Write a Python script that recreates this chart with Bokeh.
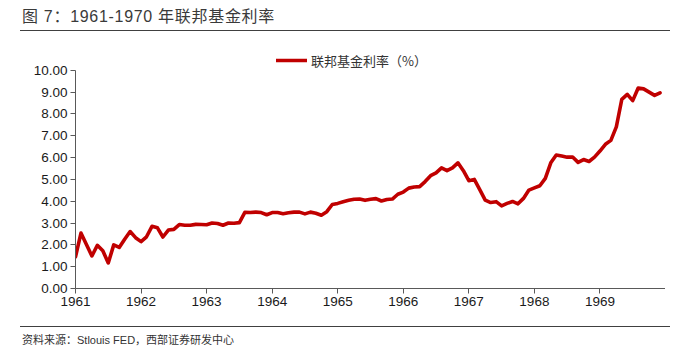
from bokeh.plotting import figure
from bokeh.models import (ColumnDataSource, Legend, LegendItem, Div,
                          FixedTicker, NumeralTickFormatter, Range1d)
from bokeh.layouts import column
from bokeh.embed import file_html
from bokeh.resources import INLINE

# ---- data (monthly effective federal funds rate, %) ----
years = [1961, 1962, 1963, 1964, 1965, 1966, 1967, 1968, 1969]
rate_1961 = [1.45, 2.54, 2.02, 1.49, 1.98, 1.73, 1.17, 2.00, 1.88, 2.26, 2.61, 2.33]
rate_1962 = [2.15, 2.37, 2.85, 2.78, 2.36, 2.68, 2.71, 2.93, 2.90, 2.90, 2.94, 2.93]
rate_1963 = [2.92, 3.00, 2.98, 2.90, 3.00, 2.99, 3.02, 3.49, 3.48, 3.50, 3.48, 3.38]
rate_1964 = [3.48, 3.48, 3.43, 3.47, 3.50, 3.50, 3.42, 3.50, 3.45, 3.36, 3.52, 3.85]
rate_1965 = [3.90, 3.98, 4.04, 4.09, 4.10, 4.04, 4.09, 4.12, 4.01, 4.08, 4.10, 4.32]
rate_1966 = [4.42, 4.60, 4.65, 4.67, 4.90, 5.17, 5.30, 5.53, 5.40, 5.53, 5.76, 5.40]
rate_1967 = [4.94, 5.00, 4.53, 4.05, 3.94, 3.98, 3.79, 3.90, 3.99, 3.88, 4.13, 4.51]
rate_1968 = [4.61, 4.71, 5.05, 5.76, 6.12, 6.07, 6.02, 6.03, 5.78, 5.91, 5.82, 6.02]
rate_1969 = [6.30, 6.61, 6.79, 7.41, 8.67, 8.90, 8.61, 9.19, 9.15, 9.00, 8.85, 8.97]
yearly_rates = [rate_1961, rate_1962, rate_1963, rate_1964, rate_1965,
                rate_1966, rate_1967, rate_1968, rate_1969]

x_ticks = [1961, 1962, 1963, 1964, 1965, 1966, 1967, 1968, 1969, 1970]
y_ticks = [0, 1, 2, 3, 4, 5, 6, 7, 8, 9, 10]

title_text = "图 7：1961-1970 年联邦基金利率"
legend_text = "联邦基金利率（%）"
source_text = "资料来源：Stlouis FED，西部证券研发中心"

xs, ys = [], []
for yr, vals in zip(years, yearly_rates):
    for m, v in enumerate(vals):
        xs.append(yr + m / 12.0)
        ys.append(v)
src = ColumnDataSource(dict(x=xs, y=ys))

LAT = "Liberation Sans, Noto Sans CJK SC"
CJK = "Noto Sans CJK SC"

W = 665
p = figure(width=W, height=295, output_backend="svg", toolbar_location=None,
           x_range=Range1d(1961, 1970), y_range=Range1d(0, 11.0),
           min_border_left=75, min_border_right=0, min_border_top=17,
           min_border_bottom=38)
p.title = None
p.outline_line_color = None
p.xgrid.visible = False
p.ygrid.visible = False

r = p.line("x", "y", source=src, line_color="#C00000", line_width=3.6,
           line_join="round", line_cap="round")

axis_col = "#595959"
for ax in (p.xaxis[0], p.yaxis[0]):
    ax.axis_line_color = axis_col
    ax.major_tick_line_color = axis_col
    ax.minor_tick_line_color = None
    ax.major_tick_in = 0
    ax.major_tick_out = 5
    ax.major_label_text_font = LAT
    ax.major_label_text_font_size = "13.5px"
    ax.major_label_text_color = "#1a1a1a"
    ax.major_label_standoff = 3

p.xaxis[0].ticker = FixedTicker(ticks=x_ticks)
p.xaxis[0].major_label_overrides = {1970: ""}
p.yaxis[0].ticker = FixedTicker(ticks=y_ticks)
p.yaxis[0].formatter = NumeralTickFormatter(format="0.00")
p.yaxis[0].bounds = (0, 10)

legend = Legend(items=[LegendItem(label=legend_text, renderers=[r])],
                location=(201, 218), orientation="horizontal",
                glyph_width=31, glyph_height=20, label_height=20,
                label_standoff=4, padding=0, margin=0, spacing=0,
                label_text_font=CJK, label_text_font_size="13px",
                label_text_color="#333333",
                background_fill_alpha=0, border_line_alpha=0)
p.add_layout(legend, "center")

title_div = Div(text=title_text, width=650, height=31, margin=(0, 0, 0, 20),
                styles={"font-family": LAT, "font-size": "16px",
                        "letter-spacing": "0.7px",
                        "color": "#3a3a3a", "line-height": "34px",
                        "padding-left": "2px", "box-sizing": "border-box",
                        "border-bottom": "1px solid #404040",
                        "white-space": "nowrap"})
foot_div = Div(text=source_text, width=650, height=27, margin=(0, 0, 0, 20),
               styles={"font-family": LAT, "font-size": "11px",
                       "color": "#333333", "line-height": "26px",
                       "padding-left": "2px", "box-sizing": "border-box",
                       "border-top": "1px solid #404040",
                       "white-space": "nowrap"})

layout = column(title_div, p, foot_div, spacing=0)
open("out.html", "w").write(file_html(layout, INLINE))
